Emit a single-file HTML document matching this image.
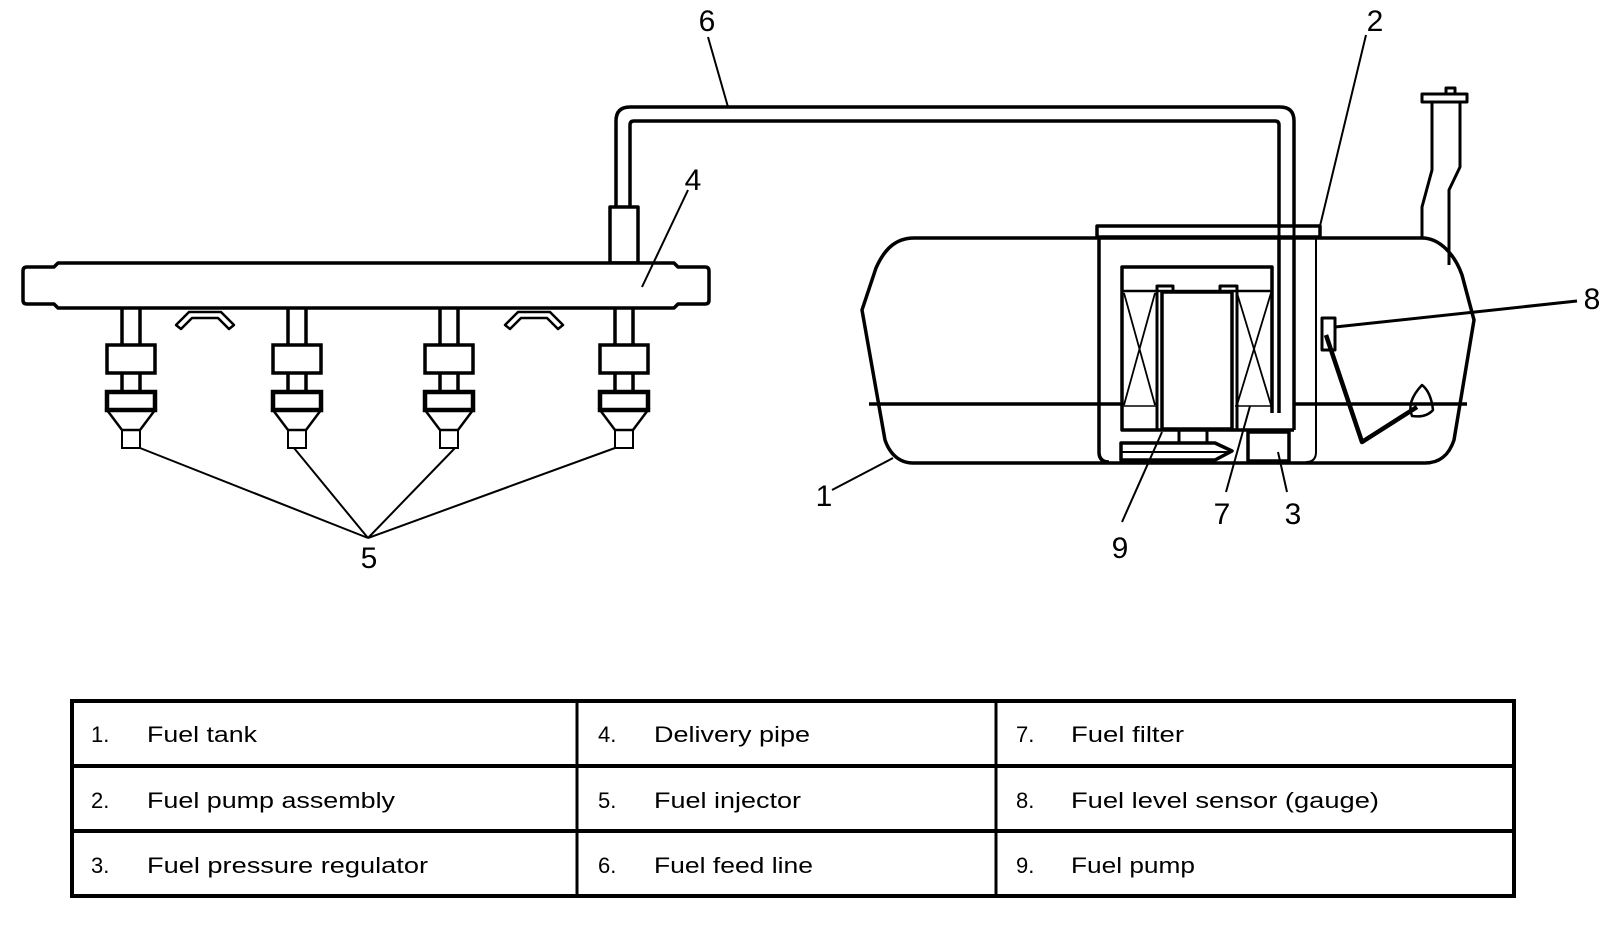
<!DOCTYPE html>
<html><head><meta charset="utf-8"><style>
html,body{margin:0;padding:0;background:#fff;}
svg{display:block;}
text{font-family:"Liberation Sans",sans-serif;fill:#000;}
.t{font-family:"DejaVu Sans","Liberation Sans",sans-serif;font-size:22px;}
</style></head><body>
<svg width="1600" height="944" viewBox="0 0 1600 944" xmlns="http://www.w3.org/2000/svg">
<g fill="none" stroke="#000" stroke-linejoin="round">
<path d="M616,207 L616,121 Q616,107 630,107 L1280,107 Q1294,107 1294,121 L1294,430" stroke-width="3.5"/>
<path d="M630,207 L630,125 Q630,121 634,121 L1275,121 Q1279,121 1279,125 L1279,413" stroke-width="3.5"/>
<rect x="610" y="207" width="28" height="56" stroke-width="3.5" fill="#fff"/>
<path d="M58,263 L674,263 L678,267 L705,267 Q709,267 709,271 L709,300 Q709,304 705,304 L678,304 L674,308 L58,308 L54,304 L27,304 Q23,304 23,300 L23,271 Q23,267 27,267 L54,267 Z" stroke-width="3.5" fill="#fff"/>
<path d="M176,325 L189,312 L221,312 L234,325 L229,329 L218,318 L192,318 L181,329 Z" stroke-width="2.5"/>
<path d="M505,325 L518,312 L550,312 L563,325 L558,329 L547,318 L521,318 L510,329 Z" stroke-width="2.5"/>
</g>
<g fill="none" stroke="#000" stroke-width="3.5">
<g id="inj1">
<line x1="122" y1="308" x2="122" y2="345"/><line x1="140" y1="308" x2="140" y2="345"/>
<rect x="107" y="345" width="48" height="28" fill="#fff"/>
<line x1="122" y1="373" x2="122" y2="392"/><line x1="140" y1="373" x2="140" y2="392"/>
<rect x="107" y="392" width="48" height="18" fill="#fff" stroke-width="4.5"/>
<polygon points="107,410 155,410 140,430 122,430" stroke-width="2.5"/>
<rect x="122" y="430" width="18" height="18" stroke-width="2"/>
</g>
<use href="#inj1" x="166"/>
<use href="#inj1" x="318"/>
<use href="#inj1" x="493"/>
</g>
<g stroke="#000" stroke-width="2" fill="none">
<line x1="140" y1="448" x2="368" y2="538"/>
<line x1="294" y1="448" x2="368" y2="538"/>
<line x1="455" y1="448" x2="368" y2="538"/>
<line x1="615" y1="448" x2="368" y2="538"/>
<line x1="688" y1="190" x2="642" y2="287"/>
<line x1="708" y1="37" x2="728" y2="107"/>
<line x1="1366" y1="35" x2="1320" y2="226"/>
<line x1="832" y1="490" x2="893" y2="458"/>
<line x1="1162" y1="432" x2="1122" y2="522"/>
<line x1="1250" y1="406" x2="1226" y2="492"/>
<line x1="1278" y1="452" x2="1287" y2="492"/>
<line x1="1335" y1="327" x2="1577" y2="301" stroke-width="3"/>
</g>
<g fill="none" stroke="#000" stroke-linejoin="round">
<path d="M1432,103 L1432,170 L1422,207 L1422,238" stroke-width="3"/>
<path d="M1460,103 L1460,167 L1449,190 L1449,265" stroke-width="3"/>
<rect x="1422" y="94" width="45" height="8" stroke-width="3" fill="#fff"/>
<rect x="1446" y="88" width="9" height="6" stroke-width="3"/>
<path d="M914,238 L1422,238 C1440,238 1455,255 1462,275 L1474,320 L1454,440 C1449,455 1440,463 1425,463 L913,463 C898,463 889,452 885,440 L862,310 L876,268 C884,250 895,238 914,238 Z" stroke-width="3.5"/>
<line x1="869" y1="404" x2="1122" y2="404" stroke-width="3.5"/>
<line x1="1294" y1="404" x2="1467" y2="404" stroke-width="3.5"/>
<path d="M1099,236 L1099,452 Q1099,462 1109,462" stroke-width="3.5"/>
<path d="M1316,236 L1316,452 Q1316,462 1306,462" stroke-width="2"/>
<rect x="1097" y="226" width="223" height="11" stroke-width="3.5" fill="#fff"/>
<line x1="1279" y1="226" x2="1279" y2="237" stroke-width="3"/>
<line x1="1294" y1="226" x2="1294" y2="237" stroke-width="3"/>
<path d="M1272,413 L1272,267 L1122,267 L1122,430 L1294,430" stroke-width="3.5"/>
<line x1="1122" y1="291" x2="1272" y2="291" stroke-width="2.5"/>
<line x1="1124" y1="293" x2="1155" y2="405" stroke-width="1.8"/>
<line x1="1155" y1="293" x2="1124" y2="405" stroke-width="1.8"/>
<line x1="1237" y1="293" x2="1271" y2="405" stroke-width="1.8"/>
<line x1="1271" y1="293" x2="1237" y2="405" stroke-width="1.8"/>
<line x1="1122" y1="406" x2="1157" y2="406" stroke-width="1.5"/>
<line x1="1235" y1="406" x2="1272" y2="406" stroke-width="1.5"/>
<path d="M1157,430 L1157,286 L1173,286 L1173,292" stroke-width="3"/>
<path d="M1237,430 L1237,286 L1220,286 L1220,292" stroke-width="3"/>
<rect x="1162" y="292" width="70" height="137" stroke-width="3.5" fill="#fff"/>
<line x1="1179" y1="430" x2="1179" y2="443" stroke-width="3"/>
<line x1="1207" y1="430" x2="1207" y2="443" stroke-width="3"/>
<polygon points="1121,443 1215,443 1232,451 1215,460 1121,460" stroke-width="3.5"/>
<line x1="1121" y1="452" x2="1228" y2="452" stroke-width="2"/>
<rect x="1248" y="432" width="41" height="29" stroke-width="3.5"/>
<rect x="1322" y="318" width="13" height="32" stroke-width="3"/>
<polyline points="1326,335 1362,442 1417,407" stroke-width="4.5"/>
<path d="M1412,416 Q1406,402 1422,385 Q1431,392 1433,410 Q1426,418 1412,416 Z" stroke-width="2.5"/>
</g>
<g font-size="30" text-anchor="middle">
<text x="707" y="31">6</text>
<text x="1375" y="31">2</text>
<text x="693" y="190">4</text>
<text x="1592" y="309">8</text>
<text x="369" y="568">5</text>
<text x="824" y="506">1</text>
<text x="1120" y="558">9</text>
<text x="1222" y="524">7</text>
<text x="1293" y="524">3</text>
</g>
<g fill="none" stroke="#000" stroke-width="4">
<rect x="72" y="701" width="1442" height="195"/>
<line x1="72" y1="766" x2="1514" y2="766"/>
<line x1="72" y1="831" x2="1514" y2="831"/>
<line x1="577" y1="701" x2="577" y2="896" stroke-width="3"/>
<line x1="996" y1="701" x2="996" y2="896" stroke-width="3"/>
</g>
<g class="t">
<text x="91" y="742">1.</text><text x="147" y="742" textLength="110" lengthAdjust="spacingAndGlyphs">Fuel tank</text>
<text x="91" y="808">2.</text><text x="147" y="808" textLength="248" lengthAdjust="spacingAndGlyphs">Fuel pump assembly</text>
<text x="91" y="873">3.</text><text x="147" y="873" textLength="281" lengthAdjust="spacingAndGlyphs">Fuel pressure regulator</text>
<text x="598" y="742">4.</text><text x="654" y="742" textLength="156" lengthAdjust="spacingAndGlyphs">Delivery pipe</text>
<text x="598" y="808">5.</text><text x="654" y="808" textLength="147" lengthAdjust="spacingAndGlyphs">Fuel injector</text>
<text x="598" y="873">6.</text><text x="654" y="873" textLength="159" lengthAdjust="spacingAndGlyphs">Fuel feed line</text>
<text x="1016" y="742">7.</text><text x="1071" y="742" textLength="113" lengthAdjust="spacingAndGlyphs">Fuel filter</text>
<text x="1016" y="808">8.</text><text x="1071" y="808" textLength="308" lengthAdjust="spacingAndGlyphs">Fuel level sensor (gauge)</text>
<text x="1016" y="873">9.</text><text x="1071" y="873" textLength="124" lengthAdjust="spacingAndGlyphs">Fuel pump</text>
</g>
</svg>
</body></html>
